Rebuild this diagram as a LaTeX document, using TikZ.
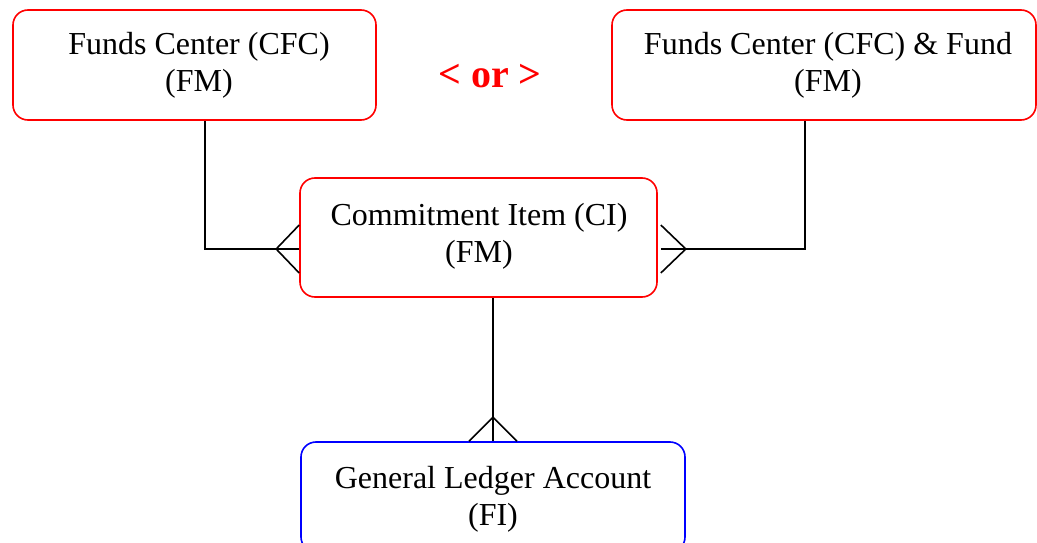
\documentclass[tikz,border=0pt]{standalone}
\usepackage{fontspec}
\setmainfont{Liberation Serif}
\usetikzlibrary{calc}
\begin{document}
\begin{tikzpicture}[x=1pt,y=-1pt]
\useasboundingbox (0,0) rectangle (1037,543);
\tikzset{
  ent/.style={draw=red, line width=1.6pt, rounded corners=15pt,
    minimum height=110pt},
  lbl/.style={align=center, text=black, font=\fontsize{32}{37}\selectfont, inner sep=0pt},
  link/.style={line width=1.6pt, black}
}
\node[ent, minimum width=363pt] (cfc) at (194.5,65) {};
\node[ent, minimum width=424pt] (cff) at (824,65) {};
\node[ent, minimum width=357pt, minimum height=119pt] (ci) at (478.5,237.5) {};
\node[ent, draw=blue, minimum width=384pt] (gl) at (493,497) {};
\node[lbl] (cfct) at (199,65) {Funds Center (CFC)\\(FM)};
\node[lbl] (cfft) at (828,65) {Funds Center (CFC) \& Fund\\(FM)};
\node[lbl] (cit) at (479,236) {Commitment Item (CI)\\(FM)};
\node[lbl] (glt) at (493,499) {General Ledger Account\\(FI)};
\node[text=red, font=\bfseries\fontsize{40}{42}\selectfont] (or) at (490,76) {< or >};

% left connector with crow's foot
\draw[link] ($(cfc.south)+(10.5,0)$) |- ($(ci.west)+(0,11.5)$);
\draw[link] ($(ci.west)+(0,-12.5)$) -- ($(ci.west)+(-23,11.5)$) -- ($(ci.west)+(0,35.5)$);

% right connector with crow's foot
\draw[link] ($(ci.east)+(3,11.5)$) -| ($(cff.south)+(-19,0)$);
\draw[link] ($(ci.east)+(3,-12.5)$) -- ($(ci.east)+(28,11.5)$) -- ($(ci.east)+(3,35.5)$);

% bottom connector with crow's foot
\draw[link] (gl.north) -- (gl.north |- ci.south);
\draw[link] ($(gl.north)+(-24,0)$) -- ($(gl.north)+(0,-24)$) -- ($(gl.north)+(24,0)$);
\end{tikzpicture}
\end{document}
